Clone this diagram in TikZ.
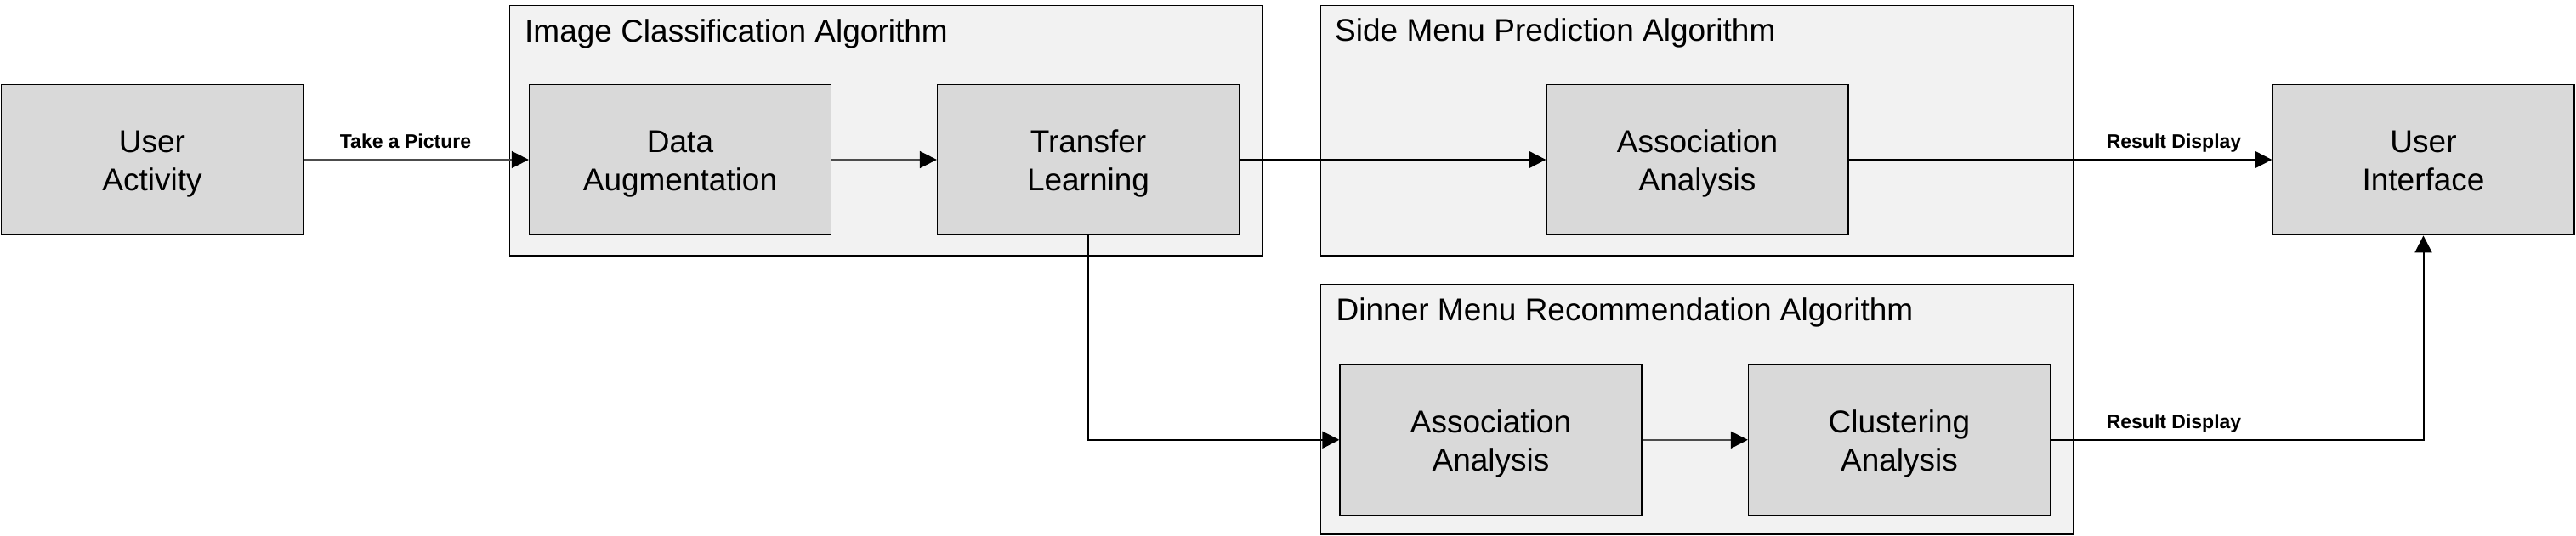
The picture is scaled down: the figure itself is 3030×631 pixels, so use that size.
\documentclass[tikz,border=0pt]{standalone}
\usepackage{fontspec}
\setmainfont{Liberation Sans}
\usetikzlibrary{arrows.meta}
\begin{document}
\begin{tikzpicture}[x=1pt,y=-1pt,
  container/.style={draw=black,line width=1.3pt,fill=black!5,inner sep=0pt},
  procbox/.style={draw=black,line width=1.3pt,fill=black!15,inner sep=0pt,
    minimum width=355pt,minimum height=177.5pt,align=center,
    font=\fontsize{37}{45}\selectfont,
    text height=74pt,text depth=0pt},
  grptitle/.style={anchor=base west,inner sep=0pt,font=\fontsize{37}{44.5}\selectfont},
  elabel/.style={anchor=base,inner sep=0pt,font=\fontsize{23}{28}\selectfont\bfseries},
  conn/.style={line width=2pt,draw=black,-{Triangle[length=20pt,width=20pt]}},
  connlight/.style={line width=1.6pt,draw=black!70,-{Triangle[length=20pt,width=20pt,color=black]}}
]
\useasboundingbox (0,0) rectangle (3030,631);
% containers
\node[container,minimum width=886pt,minimum height=294.7pt] (c1) at (1042.3,153.65) {};
\node[container,minimum width=885.7pt,minimum height=294.7pt] (c2) at (1996.15,153.65) {};
\node[container,minimum width=885.7pt,minimum height=294.7pt] (c3) at (1996.15,481.65) {};
\node[grptitle] (t1) at (617,50) {Image Classification Algorithm};
\node[grptitle] (t2) at (1570,49) {Side Menu Prediction Algorithm};
\node[grptitle] (t3) at (1571.5,377.7) {Dinner Menu Recommendation Algorithm};
% boxes
\node[procbox] (ua) at (179,188) {User\\Activity};
\node[procbox] (da) at (800,188) {Data\\Augmentation};
\node[procbox] (tl) at (1280,188) {Transfer\\Learning};
\node[procbox] (aa1) at (1996.5,188) {Association\\Analysis};
\node[procbox] (ui) at (2850.5,188) {User\\Interface};
\node[procbox] (aa2) at (1753.5,517.8) {Association\\Analysis};
\node[procbox] (ca) at (2234,517.8) {Clustering\\Analysis};
% connectors
\draw[connlight] (ua) -- (da);
\draw[connlight] (da) -- (tl);
\draw[conn] (tl) -- (aa1);
\draw[conn] (aa1) -- (ui);
\draw[conn] (tl.south) |- (aa2.west);
\draw[connlight] (aa2) -- (ca);
\draw[conn] (ca.east) -| (ui.south);
% labels
\node[elabel] (l1) at (477,175) {Take a Picture};
\node[elabel] (l2) at (2557,175) {Result Display};
\node[elabel] (l3) at (2557,504) {Result Display};
\end{tikzpicture}
\end{document}
